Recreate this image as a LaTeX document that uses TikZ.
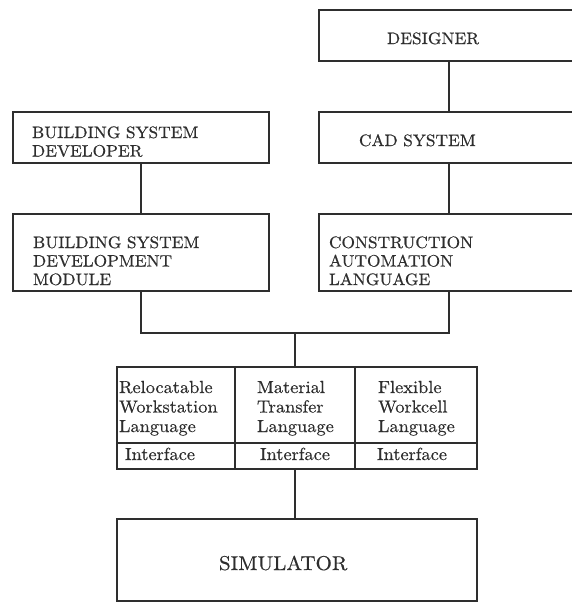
\documentclass[tikz,border=0pt]{standalone}
\usepackage{fontspec}
\setmainfont{lmroman10-regular.otf}[FakeStretch=1.05,FakeBold=0.5]
\usepackage{tikz}
\usetikzlibrary{positioning}
\definecolor{ink}{HTML}{2E2E2E}

\begin{document}
\begin{tikzpicture}[x=1pt,y=-1pt,
				node distance=51pt,
				boxbase/.style={draw=ink,line width=1.2pt,text=ink,anchor=north west,align=left,
						inner ysep=0pt,outer sep=0pt},
				unitbox/.style n args={4}{boxbase,text width={#1-2*#2},inner xsep=#2,
						text height=#3,text depth=#4,font=\fontsize{16.5}{18.5}\selectfont},
				cellbox/.style n args={4}{unitbox={#1}{#2}{#3}{#4},font=\fontsize{17.5}{19.5}\selectfont},
				wire/.style={draw=ink,line width=1.2pt}]

				\useasboundingbox (0,0) rectangle (572,603);

				\node[unitbox={260pt}{68pt}{34pt}{17pt}] (des) at (319,10) {DESIGNER};
				\node[unitbox={260pt}{40pt}{34pt}{17pt},below=of des] (cad) {CAD SYSTEM};
				\node[unitbox={260pt}{10pt}{34pt}{43pt},below=of cad] (cal)
				{CONSTRUCTION\\AUTOMATION\\LANGUAGE};

				\node[unitbox={256pt}{19pt}{26pt}{25pt}] (bsd) at (13,112) {BUILDING SYSTEM\\DEVELOPER};
				\node[unitbox={256pt}{20pt}{34pt}{43pt},below=of bsd] (bsdm)
				{BUILDING SYSTEM\\DEVELOPMENT\\MODULE};

				\node[cellbox={118pt}{2pt}{26pt}{50pt}] (rwl) at (117,367) {Relocatable\\Workstation\\Language};
				\node[cellbox={120pt}{22pt}{26pt}{50pt},right=0pt of rwl] (mtl) {Material\\Transfer\\Language};
				\node[cellbox={122pt}{23pt}{26pt}{50pt},right=0pt of mtl] (fwl) {Flexible\\Workcell\\Language};
				\node[cellbox={118pt}{8pt}{17pt}{9pt},below=0pt of rwl] (rif) {Interface};
				\node[cellbox={120pt}{25pt}{17pt}{9pt},below=0pt of mtl] (mif) {Interface};
				\node[cellbox={122pt}{22pt}{17pt}{9pt},below=0pt of fwl] (fif) {Interface};

				\node[unitbox={360pt}{102pt}{51pt}{31pt},font=\fontsize{20}{24}\selectfont,
					below=50pt of rif.south west,anchor=north west] (sim) {SIMULATOR};

				\draw[wire] (des) -- (cad);
				\draw[wire] (cad) -- (cal);
				\draw[wire] (bsd) -- (bsdm);
				\draw[wire] (bsdm.south) -- ++(0,-42pt) coordinate (bus) -| (cal.south);
				\draw[wire] (mtl.north) -- (mtl.north |- bus);
				\draw[wire] (mif.south) -- (mif.south |- sim.north);
			\end{tikzpicture}
\end{document}
